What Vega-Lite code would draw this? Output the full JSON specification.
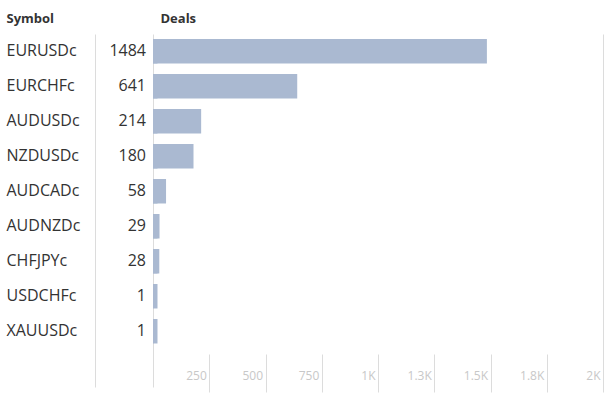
{
  "$schema": "https://vega.github.io/schema/vega-lite/v6.json",
  "width": 450,
  "height": 353,
  "autosize": {"type": "none"},
  "padding": {"left": 153, "top": 34, "right": 2, "bottom": 18},
  "background": "white",
  "data": {
    "values": [
      {"Symbol": "EURUSDc", "Deals": 1484},
      {"Symbol": "EURCHFc", "Deals": 641},
      {"Symbol": "AUDUSDc", "Deals": 214},
      {"Symbol": "NZDUSDc", "Deals": 180},
      {"Symbol": "AUDCADc", "Deals": 58},
      {"Symbol": "AUDNZDc", "Deals": 29},
      {"Symbol": "CHFJPYc", "Deals": 28},
      {"Symbol": "USDCHFc", "Deals": 1},
      {"Symbol": "XAUUSDc", "Deals": 1}
    ]
  },
  "encoding": {
    "y": {
      "field": "Symbol",
      "type": "nominal",
      "sort": null,
      "scale": {"paddingInner": 0.3, "paddingOuter": 0.693, "align": 0.103},
      "axis": {
        "orient": "left",
        "offset": 58,
        "title": "Symbol",
        "titleAngle": 0,
        "titleAlign": "left",
        "titleBaseline": "alphabetic",
        "titleX": -89,
        "titleY": -12,
        "titleFont": "Open Sans",
        "titleFontSize": 13,
        "titleFontWeight": "bold",
        "titleColor": "#333333",
        "domainColor": "#dcdcdc",
        "ticks": false,
        "labelAlign": "left",
        "labelPadding": 89,
        "labelFont": "Open Sans",
        "labelFontSize": 16,
        "labelColor": "#333333"
      }
    }
  },
  "layer": [
    {
      "mark": {"type": "tick", "orient": "vertical", "color": "#aab9d1", "thickness": 4.5, "size": 24.5, "xOffset": 2.25, "opacity": 1},
      "encoding": {
        "x": {"datum": 0, "type": "quantitative"}
      }
    },
    {
      "mark": {"type": "bar", "color": "#aab9d1"},
      "encoding": {
        "x": {
          "field": "Deals",
          "type": "quantitative",
          "scale": {"domain": [0, 2000], "nice": false},
          "axis": {
            "title": "Deals",
            "titleX": 7,
            "titleY": -370,
            "titleAlign": "left",
            "titleBaseline": "alphabetic",
            "titleFont": "Open Sans",
            "titleFontSize": 13,
            "titleFontWeight": "bold",
            "titleColor": "#333333",
            "values": [0, 250, 500, 750, 1000, 1250, 1500, 1750, 2000],
            "offset": 5,
            "domain": false,
            "tickSize": -38,
            "tickColor": {"condition": {"test": "datum.value === 0", "value": "transparent"}, "value": "#dcdcdc"},
            "grid": true,
            "gridColor": {"condition": {"test": "datum.value === 0 || datum.value === 2000", "value": "#dcdcdc"}, "value": "transparent"},
            "labelExpr": "datum.value === 0 ? '' : replace(format(datum.value, '.2~s'), 'k', 'K')",
            "labelAlign": "right",
            "labelOffset": -3,
            "labelPadding": 16,
            "labelBaseline": "top",
            "labelFont": "Open Sans",
            "labelFontSize": 12,
            "labelColor": "#c8c8c8"
          }
        }
      }
    },
    {
      "mark": {"type": "text", "align": "right", "baseline": "middle", "dx": -7, "font": "Open Sans", "fontSize": 16, "color": "#333333"},
      "encoding": {
        "x": {"datum": 0, "type": "quantitative"},
        "text": {"field": "Deals", "type": "quantitative", "format": "d"}
      }
    }
  ],
  "config": {"view": {"stroke": null}}
}
